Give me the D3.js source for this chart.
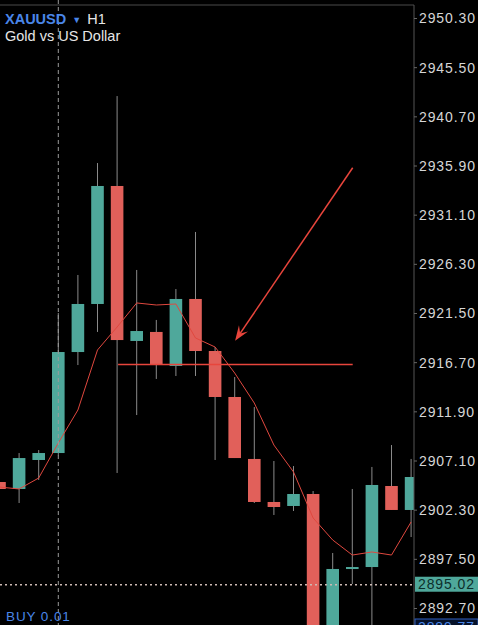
<!DOCTYPE html>
<html>
<head>
<meta charset="utf-8">
<script src="https://cdn.jsdelivr.net/npm/d3@7/dist/d3.min.js"></script>
<style>
  html, body { margin: 0; padding: 0; background: #000; }
  svg { display: block; }
  text { font-family: "Liberation Sans", Arial, sans-serif; }
</style>
</head>
<body>
<svg id="chart" width="478" height="625"></svg>
<script>
// ---- data ----
const opens  = [2905.00, 2904.32, 2907.15, 2907.83, 2917.69, 2922.38, 2933.90, 2918.77, 2919.65, 2916.33, 2922.87, 2917.79, 2913.30, 2907.25, 2903.05, 2902.66, 2903.83, 2889.50, 2896.51, 2896.70, 2904.61, 2902.27];
const highs  = [2905.00, 2907.83, 2908.12, 2921.50, 2925.21, 2936.14, 2942.68, 2925.70, 2920.82, 2923.84, 2929.41, 2918.18, 2915.25, 2912.32, 2907.05, 2906.56, 2904.12, 2898.07, 2904.32, 2906.47, 2908.61, 2907.25];
const lows   = [2904.30, 2902.95, 2905.20, 2907.60, 2916.42, 2919.65, 2905.88, 2911.54, 2915.06, 2915.35, 2915.35, 2907.15, 2907.34, 2902.95, 2901.78, 2902.17, 2888.00, 2888.50, 2895.04, 2889.00, 2902.27, 2899.63];
const closes = [2904.32, 2907.34, 2907.83, 2917.69, 2922.38, 2933.90, 2918.86, 2919.74, 2916.52, 2922.87, 2917.79, 2913.30, 2907.34, 2903.05, 2902.56, 2903.83, 2889.50, 2896.51, 2896.70, 2904.71, 2902.27, 2905.49];
const maValues = [2904.51, 2904.32, 2905.39, 2908.81, 2912.03, 2917.89, 2920.13, 2922.48, 2922.28, 2922.38, 2919.06, 2918.18, 2915.64, 2912.71, 2908.61, 2905.98, 2901.49, 2899.34, 2897.87, 2898.17, 2897.87, 2901.10];
const tickLabels = ["2950.30", "2945.50", "2940.70", "2935.90", "2931.10", "2926.30", "2921.50", "2916.70", "2911.90", "2907.10", "2902.30", "2897.50", "2892.70"];
const bidPrice = 2895.02;
const hLineLevel = 2916.47;       // horizontal line value
const hLineRange = [6.05, 18.02];  // candle-index span
const arrowFrom = [18.02, 2935.68];
const arrowTo = [12.02, 2918.78];
const cursorIndex = 3.0;
const symbol = "XAUUSD", timeframe = "H1", description = "Gold vs US Dollar";
const orderLabel = "BUY 0.01";
const hiddenTag = "2889.77";

// ---- layout ----
const W = 478, H = 625;
const axisX = 414;
const topY = 5;
const svg = d3.select("#chart");
const GREEN = "#4fa89b", RED = "#e1605a", WICK = "#8a8a8a";

const x = d3.scaleLinear().domain([0, 21]).range([-0.5, 411.1]);
const y = d3.scaleLinear().domain([2892.70, 2950.30]).range([608, 18]);
const bodyW = 12.6;

svg.append("rect").attr("width", W).attr("height", H).attr("fill", "#000");

svg.append("defs").append("clipPath").attr("id", "plot")
  .append("rect").attr("x", 0).attr("y", topY).attr("width", axisX).attr("height", H - topY);

const plot = svg.append("g").attr("clip-path", "url(#plot)");

// cursor dashed vertical line
svg.append("line")
  .attr("x1", x(cursorIndex)).attr("x2", x(cursorIndex))
  .attr("y1", 0).attr("y2", H)
  .attr("stroke", "#9a9a9a").attr("stroke-width", 1).attr("stroke-dasharray", "4,3");

const candles = opens.map((o, i) => ({ i, o, h: highs[i], l: lows[i], c: closes[i] }));

// wicks
plot.selectAll("line.wick").data(candles).join("line")
  .attr("class", "wick")
  .attr("x1", d => x(d.i)).attr("x2", d => x(d.i))
  .attr("y1", d => y(d.h)).attr("y2", d => y(d.l))
  .attr("stroke", WICK).attr("stroke-width", 1);

// bodies
plot.selectAll("rect.body").data(candles).join("rect")
  .attr("class", "body")
  .attr("x", d => x(d.i) - bodyW / 2)
  .attr("width", bodyW)
  .attr("y", d => y(Math.max(d.o, d.c)))
  .attr("height", d => Math.max(2, Math.abs(y(d.o) - y(d.c))))
  .attr("fill", d => d.c >= d.o ? GREEN : RED);

// moving average
plot.append("path")
  .datum(maValues)
  .attr("d", d3.line().x((d, i) => x(i)).y(d => y(d)))
  .attr("fill", "none").attr("stroke", "#e0483f").attr("stroke-width", 1);

// horizontal line
plot.append("line")
  .attr("x1", x(hLineRange[0])).attr("x2", x(hLineRange[1]))
  .attr("y1", y(hLineLevel)).attr("y2", y(hLineLevel))
  .attr("stroke", "#e8453c").attr("stroke-width", 1.5);

// arrow
const ax1 = x(arrowFrom[0]), ay1 = y(arrowFrom[1]);
const ax2 = x(arrowTo[0]), ay2 = y(arrowTo[1]);
const ang = Math.atan2(ay2 - ay1, ax2 - ax1);
const headLen = 15, headW = 5.5;
const bx = ax2 - headLen * Math.cos(ang), by = ay2 - headLen * Math.sin(ang);
plot.append("line")
  .attr("x1", ax1).attr("y1", ay1)
  .attr("x2", ax2 - 6 * Math.cos(ang)).attr("y2", ay2 - 6 * Math.sin(ang))
  .attr("stroke", "#e8453c").attr("stroke-width", 1.5);
plot.append("path")
  .attr("d", `M${ax2},${ay2} L${bx + headW * Math.sin(ang)},${by - headW * Math.cos(ang)} L${ax2 - 9 * Math.cos(ang)},${ay2 - 9 * Math.sin(ang)} L${bx - headW * Math.sin(ang)},${by + headW * Math.cos(ang)} Z`)
  .attr("fill", "#e8453c");

// bid dotted line
svg.append("line")
  .attr("x1", 0).attr("x2", axisX)
  .attr("y1", y(bidPrice) + 0.5).attr("y2", y(bidPrice) + 0.5)
  .attr("stroke", "#cdbab4").attr("stroke-width", 1.3).attr("stroke-dasharray", "2,3");

// frame
svg.append("line").attr("x1", 0).attr("x2", axisX).attr("y1", topY).attr("y2", topY)
  .attr("stroke", "#4a4a4a").attr("stroke-width", 1);
svg.append("line").attr("x1", axisX).attr("x2", axisX).attr("y1", topY).attr("y2", H)
  .attr("stroke", "#555").attr("stroke-width", 1);

// right axis
const axis = d3.axisRight(y)
  .tickValues(tickLabels.map(Number))
  .tickFormat(d3.format(".2f"))
  .tickSize(3)
  .tickPadding(2);
const axG = svg.append("g").attr("transform", `translate(${axisX},0)`).call(axis);
axG.select(".domain").remove();
axG.selectAll(".tick line").attr("stroke", "#666");
axG.selectAll(".tick text")
  .attr("fill", "#d6d6d6").attr("font-size", 14).attr("letter-spacing", 0.9)
  .attr("dy", "0.35em");

// bid tag
const bidY = y(bidPrice);
svg.append("rect").attr("x", axisX + 1).attr("y", bidY - 7.5).attr("width", W - axisX - 1).attr("height", 15)
  .attr("fill", GREEN);
svg.append("text").attr("x", axisX + 4).attr("y", bidY).attr("dy", "0.36em")
  .attr("fill", "#0d2f2b").attr("font-size", 14).attr("letter-spacing", 0.9)
  .text(d3.format(".2f")(bidPrice));

// partially hidden blue tag at bottom
svg.append("rect").attr("x", axisX + 1).attr("y", 619).attr("width", W - axisX - 1).attr("height", 16)
  .attr("fill", "#06122a").attr("stroke", "#2f5fbf").attr("stroke-width", 1);
svg.append("text").attr("x", axisX + 4).attr("y", 631.5)
  .attr("fill", "#4a86e8").attr("font-size", 14).attr("letter-spacing", 0.9).text(hiddenTag);

// title
const t1 = svg.append("text").attr("x", 5).attr("y", 23.5).attr("font-size", 14.5);
t1.append("tspan").attr("fill", "#4a86e8").attr("font-weight", "bold").text(symbol);
t1.append("tspan").attr("fill", "#4a86e8").attr("font-size", 9).attr("dx", 6).attr("dy", -1).text("▼");
t1.append("tspan").attr("fill", "#e6e6e6").attr("dx", 6).attr("dy", 1).text(timeframe);
svg.append("text").attr("x", 5).attr("y", 40.5).attr("font-size", 14.5)
  .attr("fill", "#e6e6e6").text(description);

// order label
svg.append("text").attr("x", 6).attr("y", 620.5).attr("font-size", 13.5).attr("letter-spacing", 0.9)
  .attr("fill", "#4a86e8").text(orderLabel);
</script>
</body>
</html>
